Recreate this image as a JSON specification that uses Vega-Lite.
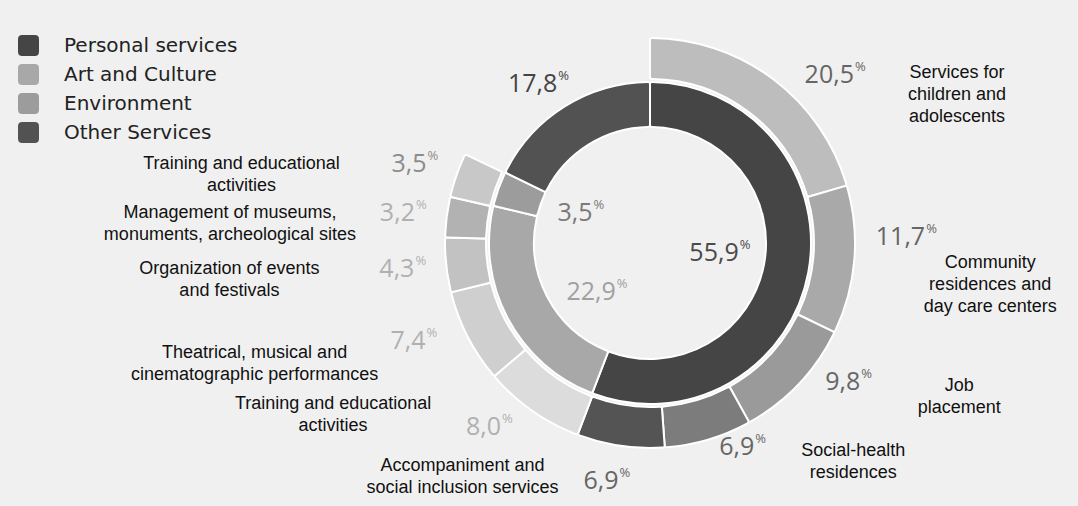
{
  "$schema": "https://vega.github.io/schema/vega-lite/v6.json",
  "width": 856,
  "height": 486,
  "autosize": {"type": "none"},
  "padding": {"left": 222, "top": 0, "right": 0, "bottom": 20},
  "background": "#f0f0f0",
  "config": {
    "view": {"stroke": null},
    "locale": {"number": {"decimal": ",", "thousands": ".", "grouping": [3], "currency": ["", " €"]}}
  },
  "data": {
    "values": [
      {"ring": "inner", "idx": 1, "group": "Personal services", "label": "", "value": 55.9},
      {"ring": "inner", "idx": 2, "group": "Art and Culture", "label": "", "value": 22.9},
      {"ring": "inner", "idx": 3, "group": "Environment", "label": "", "value": 3.5},
      {"ring": "inner", "idx": 4, "group": "Other Services", "label": "", "value": 17.8},
      {"ring": "outer", "idx": 1, "group": "Personal services", "label": "Services for\nchildren and\nadolescents", "value": 20.5},
      {"ring": "outer", "idx": 2, "group": "Personal services", "label": "Community\nresidences and\nday care centers", "value": 11.7},
      {"ring": "outer", "idx": 3, "group": "Personal services", "label": "Job\nplacement", "value": 9.8},
      {"ring": "outer", "idx": 4, "group": "Personal services", "label": "Social-health\nresidences", "value": 6.9},
      {"ring": "outer", "idx": 5, "group": "Personal services", "label": "Accompaniment and\nsocial inclusion services", "value": 6.9},
      {"ring": "outer", "idx": 6, "group": "Art and Culture", "label": "Training and educational\nactivities", "value": 8.0},
      {"ring": "outer", "idx": 7, "group": "Art and Culture", "label": "Theatrical, musical and\ncinematographic performances", "value": 7.4},
      {"ring": "outer", "idx": 8, "group": "Art and Culture", "label": "Organization of events\nand festivals", "value": 4.3},
      {"ring": "outer", "idx": 9, "group": "Art and Culture", "label": "Management of museums,\nmonuments, archeological sites", "value": 3.2},
      {"ring": "outer", "idx": 10, "group": "Environment", "label": "Training and educational\nactivities", "value": 3.5}
    ]
  },
  "resolve": {"scale": {"color": "independent"}},
  "layer": [
    {
      "transform": [{"filter": "datum.ring === 'inner'"}],
      "mark": {"type": "arc", "radius": 161, "radius2": 116, "stroke": "white", "strokeWidth": 2, "cornerRadius": 2},
      "encoding": {
        "theta": {"field": "value", "type": "quantitative", "stack": true, "scale": {"domain": [0, 100.1]}},
        "order": {"field": "idx", "type": "quantitative"},
        "color": {
          "field": "group", "type": "nominal",
          "scale": {"domain": ["Personal services", "Art and Culture", "Environment", "Other Services"], "range": ["#454545", "#a8a8a8", "#9c9c9c", "#525252"]},
          "legend": {
            "title": null, "orient": "none", "legendX": -204, "legendY": 35,
            "symbolType": "M-1,-0.6Q-1,-1,-0.6,-1L0.6,-1Q1,-1,1,-0.6L1,0.6Q1,1,0.6,1L-0.6,1Q-1,1,-1,0.6Z",
            "symbolSize": 441, "symbolStrokeWidth": 0, "symbolOpacity": 1,
            "labelFont": "DejaVu Sans", "labelFontSize": 20, "labelColor": "#222222",
            "labelOffset": 25, "rowPadding": 8, "padding": 0, "labelLimit": 400
          }
        }
      }
    },
    {
      "transform": [{"filter": "datum.ring === 'outer'"}],
      "mark": {"type": "arc", "radius": 205, "radius2": 164, "stroke": "white", "strokeWidth": 2, "cornerRadius": 2},
      "encoding": {
        "theta": {"field": "value", "type": "quantitative", "stack": true, "scale": {"domain": [0, 100.1]}},
        "order": {"field": "idx", "type": "quantitative"},
        "color": {
          "field": "idx", "type": "ordinal",
          "scale": {"domain": [1, 2, 3, 4, 5, 6, 7, 8, 9, 10], "range": ["#bdbdbd", "#a9a9a9", "#9a9a9a", "#7c7c7c", "#545454", "#dcdcdc", "#cfcfcf", "#c2c2c2", "#b2b2b2", "#c8c8c8"]},
          "legend": null
        }
      }
    },
    {
      "transform": [{"filter": "datum.ring === 'inner'"}],
      "encoding": {
        "theta": {"field": "value", "type": "quantitative", "stack": true, "scale": {"domain": [0, 100.1]}},
        "order": {"field": "idx", "type": "quantitative"},
        "color": {"field": "group", "type": "nominal", "scale": {"domain": ["Personal services", "Art and Culture", "Environment", "Other Services"], "range": ["#4a4a4a", "#a0a0a0", "#7a7a7a", "#444444"]}, "legend": null}
      },
      "layer": [
        {
          "mark": {"type": "text", "radius": 76, "align": "right", "baseline": "middle", "dx": 14, "dy": -4, "font": "Open Sans", "fontSize": 25},
          "encoding": {"text": {"condition": {"test": "datum.idx === 1 || datum.idx === 3", "field": "value", "type": "quantitative", "format": ".1f"}, "value": ""}}
        },
        {
          "mark": {"type": "text", "radius": 76, "align": "left", "baseline": "middle", "dx": 15, "dy": -12, "font": "Open Sans", "fontSize": 13},
          "encoding": {"text": {"condition": {"test": "datum.idx === 1 || datum.idx === 3", "value": "%"}, "value": ""}}
        },
        {
          "mark": {"type": "text", "radius": 76, "align": "right", "baseline": "middle", "dx": 33, "dy": 14, "font": "Open Sans", "fontSize": 25},
          "encoding": {"text": {"condition": {"test": "datum.idx === 2", "field": "value", "type": "quantitative", "format": ".1f"}, "value": ""}}
        },
        {
          "mark": {"type": "text", "radius": 76, "align": "left", "baseline": "middle", "dx": 34, "dy": 6, "font": "Open Sans", "fontSize": 13},
          "encoding": {"text": {"condition": {"test": "datum.idx === 2", "value": "%"}, "value": ""}}
        },
        {
          "mark": {"type": "text", "radius": 190, "align": "right", "baseline": "middle", "dx": 8, "dy": 2, "font": "Open Sans", "fontSize": 25},
          "encoding": {"text": {"condition": {"test": "datum.idx === 4", "field": "value", "type": "quantitative", "format": ".1f"}, "value": ""}}
        },
        {
          "mark": {"type": "text", "radius": 190, "align": "left", "baseline": "middle", "dx": 9, "dy": -6, "font": "Open Sans", "fontSize": 13},
          "encoding": {"text": {"condition": {"test": "datum.idx === 4", "value": "%"}, "value": ""}}
        }
      ]
    },
    {
      "transform": [{"filter": "datum.ring === 'outer'"}],
      "encoding": {
        "theta": {"field": "value", "type": "quantitative", "stack": true, "scale": {"domain": [0, 100.1]}},
        "order": {"field": "idx", "type": "quantitative"},
        "color": {"field": "group", "type": "nominal", "scale": {"domain": ["Personal services", "Art and Culture", "Environment", "Other Services"], "range": ["#666666", "#b0b0b0", "#8c8c8c", "#444444"]}, "legend": null}
      },
      "layer": [
        {
          "mark": {"type": "text", "radius": 240, "align": "right", "baseline": "middle", "dx": 60, "dy": 24, "font": "Open Sans", "fontSize": 25},
          "encoding": {"text": {"condition": {"test": "datum.idx === 1", "field": "value", "type": "quantitative", "format": ".1f"}, "value": ""}}
        },
        {
          "mark": {"type": "text", "radius": 240, "align": "left", "baseline": "middle", "dx": 61, "dy": 16, "font": "Open Sans", "fontSize": 13},
          "encoding": {"text": {"condition": {"test": "datum.idx === 1", "value": "%"}, "value": ""}}
        },
        {
          "mark": {"type": "text", "radius": 240, "align": "right", "baseline": "middle", "dx": 36, "dy": -26, "font": "Open Sans", "fontSize": 25},
          "encoding": {"text": {"condition": {"test": "datum.idx >= 2 && datum.idx <= 4", "field": "value", "type": "quantitative", "format": ".1f"}, "value": ""}}
        },
        {
          "mark": {"type": "text", "radius": 240, "align": "left", "baseline": "middle", "dx": 37, "dy": -34, "font": "Open Sans", "fontSize": 13},
          "encoding": {"text": {"condition": {"test": "datum.idx >= 2 && datum.idx <= 4", "value": "%"}, "value": ""}}
        },
        {
          "mark": {"type": "text", "radius": 240, "align": "right", "baseline": "middle", "dx": 3, "dy": 0, "font": "Open Sans", "fontSize": 25},
          "encoding": {"text": {"condition": {"test": "datum.idx === 5 || datum.idx >= 8", "field": "value", "type": "quantitative", "format": ".1f"}, "value": ""}}
        },
        {
          "mark": {"type": "text", "radius": 240, "align": "left", "baseline": "middle", "dx": 4, "dy": -8, "font": "Open Sans", "fontSize": 13},
          "encoding": {"text": {"condition": {"test": "datum.idx === 5 || datum.idx >= 8", "value": "%"}, "value": ""}}
        },
        {
          "mark": {"type": "text", "radius": 240, "align": "right", "baseline": "middle", "dx": -11, "dy": -12, "font": "Open Sans", "fontSize": 25},
          "encoding": {"text": {"condition": {"test": "datum.idx === 6 || datum.idx === 7", "field": "value", "type": "quantitative", "format": ".1f"}, "value": ""}}
        },
        {
          "mark": {"type": "text", "radius": 240, "align": "left", "baseline": "middle", "dx": -10, "dy": -20, "font": "Open Sans", "fontSize": 13},
          "encoding": {"text": {"condition": {"test": "datum.idx === 6 || datum.idx === 7", "value": "%"}, "value": ""}}
        }
      ]
    },
    {
      "transform": [{"filter": "datum.ring === 'outer'"}],
      "encoding": {
        "theta": {"field": "value", "type": "quantitative", "stack": true, "scale": {"domain": [0, 100.1]}},
        "order": {"field": "idx", "type": "quantitative"}
      },
      "layer": [
        {
          "mark": {"type": "text", "radius": 240, "align": "center", "baseline": "middle", "dx": 163, "dy": 22, "font": "Liberation Sans", "fontSize": 18, "lineHeight": 22, "lineBreak": "\n", "color": "#111111"},
          "encoding": {"text": {"condition": {"test": "datum.idx === 1", "field": "label", "type": "nominal"}, "value": ""}}
        },
        {
          "mark": {"type": "text", "radius": 240, "align": "center", "baseline": "middle", "dx": 101, "dy": 0, "font": "Liberation Sans", "fontSize": 18, "lineHeight": 22, "lineBreak": "\n", "color": "#111111"},
          "encoding": {"text": {"condition": {"test": "datum.idx === 2", "field": "label", "type": "nominal"}, "value": ""}}
        },
        {
          "mark": {"type": "text", "radius": 240, "align": "center", "baseline": "middle", "dx": 135, "dy": -22, "font": "Liberation Sans", "fontSize": 18, "lineHeight": 22, "lineBreak": "\n", "color": "#111111"},
          "encoding": {"text": {"condition": {"test": "datum.idx === 3 || datum.idx === 4", "field": "label", "type": "nominal"}, "value": ""}}
        },
        {
          "mark": {"type": "text", "radius": 240, "align": "center", "baseline": "middle", "dx": -153, "dy": -15, "font": "Liberation Sans", "fontSize": 18, "lineHeight": 22, "lineBreak": "\n", "color": "#111111"},
          "encoding": {"text": {"condition": {"test": "datum.idx === 5", "field": "label", "type": "nominal"}, "value": ""}}
        },
        {
          "mark": {"type": "text", "radius": 240, "align": "center", "baseline": "middle", "dx": -179, "dy": -35, "font": "Liberation Sans", "fontSize": 18, "lineHeight": 22, "lineBreak": "\n", "color": "#111111"},
          "encoding": {"text": {"condition": {"test": "datum.idx === 6", "field": "label", "type": "nominal"}, "value": ""}}
        },
        {
          "mark": {"type": "text", "radius": 240, "align": "center", "baseline": "middle", "dx": -182, "dy": 0, "font": "Liberation Sans", "fontSize": 18, "lineHeight": 22, "lineBreak": "\n", "color": "#111111"},
          "encoding": {"text": {"condition": {"test": "datum.idx >= 7", "field": "label", "type": "nominal"}, "value": ""}}
        }
      ]
    }
  ]
}
